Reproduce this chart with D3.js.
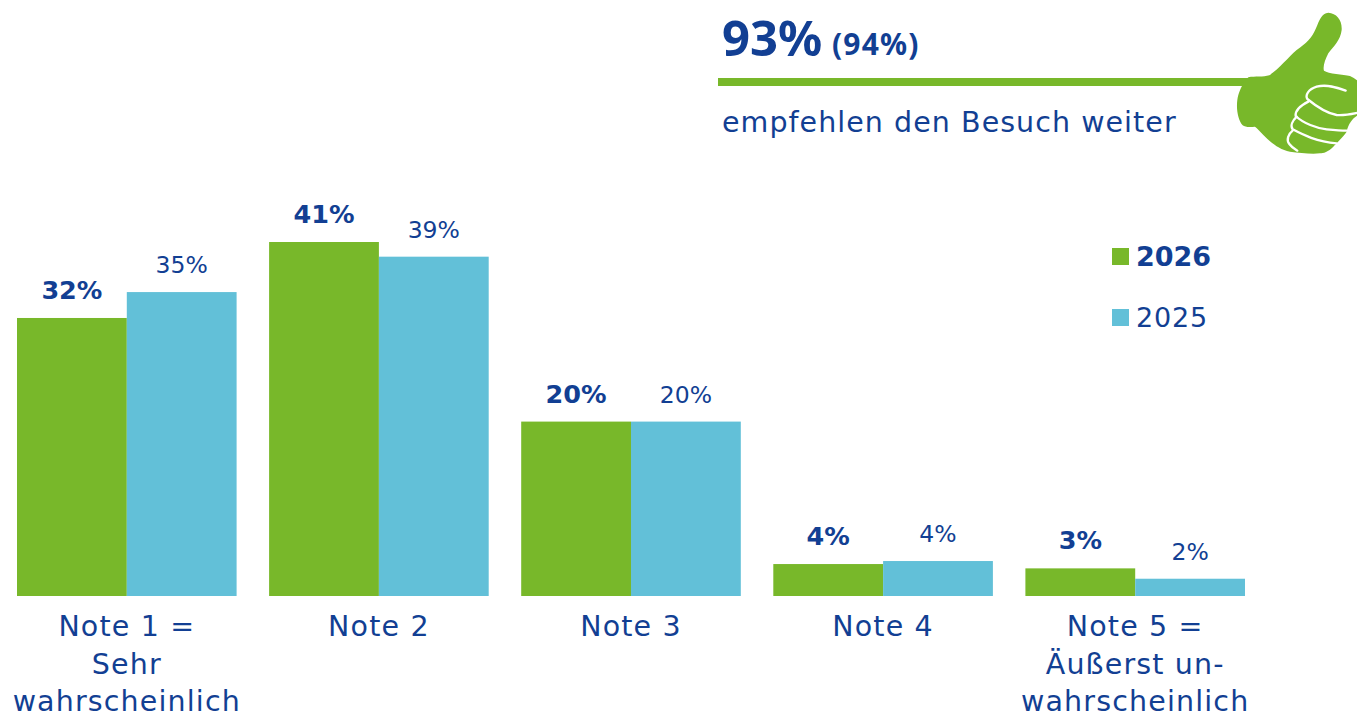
<!DOCTYPE html>
<html><head><meta charset="utf-8">
<script src="https://cdn.jsdelivr.net/npm/d3@7"></script>
<style>html,body{margin:0;padding:0;background:#fff;overflow:hidden}svg{display:block}text{font-family:"DejaVu Sans",sans-serif;fill:#123f93}</style>
</head><body><svg id="c" width="1357" height="713"></svg>
<script>
const categories=[["Note 1 =","Sehr","wahrscheinlich"],["Note 2"],["Note 3"],["Note 4"],["Note 5 =","Äußerst un-","wahrscheinlich"]];
const series=["2026","2025"];
const values2026=[32.2,41,20.2,3.7,3.2];
const values2025=[35.2,39.3,20.2,4.05,2];
const labels2026=["32%","41%","20%","4%","3%"];
const labels2025=["35%","39%","20%","4%","2%"];
const colors=["#78b82a","#62c0d8"];
const headline="93%", headlinePrev="(94%)", headlineText="empfehlen den Besuch weiter";
const svg=d3.select("#c");
const bw=219.6, start=17, step=252.1;
const x=d3.scaleBand().domain(d3.range(categories.length)).range([start,start+step*4+bw]).paddingInner(1-bw/step).paddingOuter(0);
const y=d3.scaleLinear().domain([0,41]).range([596,242]);
const x1=d3.scaleBand().domain(series).range([0,x.bandwidth()]);
const vals=[values2026,values2025], labs=[labels2026,labels2025];
series.forEach((s,si)=>{
  svg.append("g").selectAll("rect").data(vals[si]).join("rect")
    .attr("x",(d,i)=>x(i)+x1(s)).attr("width",x1.bandwidth())
    .attr("y",d=>y(d)).attr("height",d=>y(0)-y(d)).attr("fill",colors[si]);
  svg.append("g").selectAll("text").data(labs[si]).join("text")
    .attr("x",(d,i)=>x(i)+x1(s)+x1.bandwidth()/2)
    .attr("y",(d,i)=>y(vals[si][i])-(si?19:19))
    .attr("text-anchor","middle")
    .attr("font-size",si?23.5:25.5).attr("font-weight",si?400:700).text(d=>d);
});
const rowY=[636,674,711];
categories.forEach((c,i)=>{
  c.forEach((t,j)=>{
    svg.append("text").attr("x",x(i)+x.bandwidth()/2).attr("y",rowY[j])
      .attr("text-anchor","middle").attr("font-size",28.5).attr("letter-spacing",1.15).text(t);
  });
});
// legend
const ly=[257,318];
series.forEach((s,i)=>{
  svg.append("rect").attr("x",1112).attr("y",ly[i]-9).attr("width",17).attr("height",17).attr("fill",colors[i]);
  svg.append("text").attr("x",1136).attr("y",ly[i]+9).attr("font-size",27).attr("font-weight",i?400:700).attr("letter-spacing",i?0.8:0).text(s);
});
// headline
svg.append("text").attr("x",722).attr("y",56).style("font-family","'Noto Sans'").attr("font-size",49).attr("font-weight",700).text(headline);
svg.append("text").attr("x",832).attr("y",55).style("font-family","'Noto Sans'").attr("font-size",30).attr("font-weight",700).attr("letter-spacing",1.2).text(headlinePrev);
svg.append("text").attr("x",722).attr("y",132).attr("font-size",28.5).attr("letter-spacing",1.05).text(headlineText);
svg.append("rect").attr("x",718).attr("y",78).attr("width",540).attr("height",8).attr("fill",colors[0]);
// thumb
const g=svg.append("g").attr("transform","translate(1180,0) scale(0.3333)");
g.append("path").attr("fill",colors[0]).attr("d","M205,232 C225,228 250,232 268,226 C295,208 325,172 350,150 C380,130 395,115 408,85 C418,60 425,40 445,38 C470,40 487,60 485,90 C482,120 460,140 445,160 C435,180 428,200 432,212 C445,222 490,222 510,228 C520,232 531,240 535,245 L535,345 C520,352 505,370 500,395 C490,410 470,430 460,440 C445,455 430,460 420,460 C390,463 360,458 330,455 C295,448 270,425 250,405 C240,395 232,385 225,380 C210,382 195,382 188,376 C175,360 168,330 172,300 C175,280 182,265 186,258 L180,258 L205,232 Z");
const w=g.append("g").attr("fill","none").attr("stroke","#fff").attr("stroke-width",7).attr("stroke-linecap","round");
w.append("path").attr("d","M497,272 C470,262 440,252 410,260 C385,268 375,285 382,297 C410,320 440,340 470,345 C495,347 515,342 535,338");
w.append("path").attr("d","M385,305 C365,315 345,330 347,348 C370,370 410,385 440,388 C460,390 480,392 500,392");
w.append("path").attr("d","M350,350 C338,362 330,378 338,388 C370,405 410,425 470,430");
w.append("path").attr("d","M338,392 C325,402 318,420 328,432 C335,442 345,448 352,452");
</script></body></html>
